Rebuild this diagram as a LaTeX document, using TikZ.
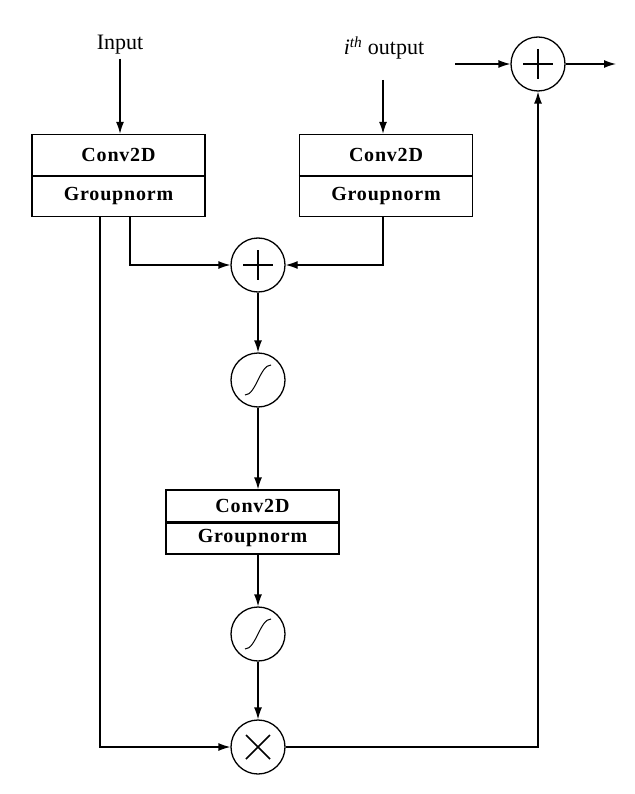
\documentclass[tikz,border=0pt]{standalone}
\usepackage{fontspec}
\setmainfont{Liberation Serif}
\usetikzlibrary{arrows.meta,calc}
\begin{document}
\begin{tikzpicture}[x=1pt,y=-1pt,line width=1.3pt,
  arr/.style={-{Latex[length=12pt,width=8pt]}},
  op/.style={circle,draw,minimum size=54pt,inner sep=0pt},
  half/.style={draw,minimum width=173pt,minimum height=41pt,inner sep=0pt,font=\fontsize{20}{22}\selectfont\bfseries\addfontfeature{LetterSpace=4}}]
\useasboundingbox (0,0) rectangle (634,794);
\node[half] (c1) at (118.5,155) {Conv2D};
\node[half] (g1) at (118.5,196) {Groupnorm};
\node[half] (c2) at (386,155) {Conv2D};
\node[half] (g2) at (386,196) {Groupnorm};
\node[half,minimum height=32pt] (c3) at (252.5,506) {Conv2D};
\node[half,minimum height=32pt] (g3) at (252.5,538) {Groupnorm};
\draw[line width=2.6pt] (c1.south west)--(c1.south east);
\draw[line width=2.6pt] (c2.south west)--(c2.south east);
\draw[line width=2pt] (c3.south west)--(c3.south east);
\node[font=\fontsize{22}{24}\selectfont] (in) at (120,45) {Input};
\node[font=\fontsize{22}{24}\selectfont,anchor=base] (io) at (384,55) {\textit{i}\textsuperscript{\itshape th} output};
\node[op] (p1) at (538,64) {};
\node[op] (p2) at (258,265) {};
\node[op] (s1) at (258,380) {};
\node[op] (s2) at (258,634) {};
\node[op] (m) at (258,747) {};
\foreach \n in {p1,p2}{\draw[line width=1.6pt] ($(\n)+(-15,0)$)--($(\n)+(15,0)$) ($(\n)+(0,-15)$)--($(\n)+(0,15)$);}
\foreach \n in {s1,s2}{\draw[line width=1pt] ($(\n)+(-13,15)$) .. controls ($(\n)+(-2,15)$) and ($(\n)+(2,-15)$) .. ($(\n)+(13,-15)$);}
\draw[line width=1.6pt] ($(m)+(-12,-12)$)--($(m)+(12,12)$) ($(m)+(-12,12)$)--($(m)+(12,-12)$);
\coordinate (o) at (616,64);
\coordinate (iot) at (383,80);
\draw[arr] (in.south) -- (c1.north -| in.south);
\draw[arr] (iot) -- (c2.north -| iot);
\draw[arr] (455,64) -- (p1.west);
\draw[arr] (p1.east) -- (o);
\draw[arr] (g1.south) ++(11.5,0) |- (p2.west);
\draw[arr] (g2.south) ++(-3,0) |- (p2.east);
\draw[arr] (p2.south) -- (s1.north);
\draw[arr] (s1.south) -- (c3.north -| s1);
\draw[arr] (g3.south -| s2) -- (s2.north);
\draw[arr] (s2.south) -- (m.north);
\draw[arr] (g1.south) ++(-18.5,0) |- (m.west);
\draw[arr] (m.east) -| (p1.south);
\end{tikzpicture}
\end{document}
